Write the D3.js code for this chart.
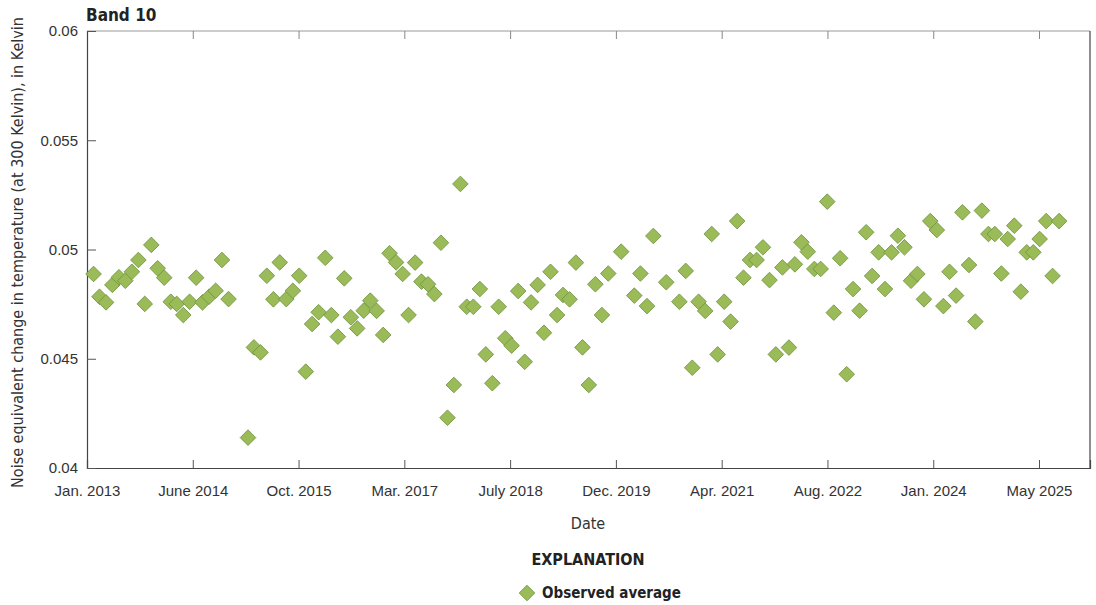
<!DOCTYPE html>
<html>
<head>
<meta charset="utf-8">
<script src="https://cdn.jsdelivr.net/npm/d3@7"></script>
<style>
  body { margin: 0; background: #fff; }
  svg { display: block; font-family: "Liberation Sans Narrow", "DejaVu Sans Condensed", sans-serif; }
  .tick-label { font-size: 15px; fill: #333; }
</style>
</head>
<body>
<div id="chart"></div>
<script>
// monthly observed averages, Band 10
var months = [
  "2013-02","2013-03","2013-04","2013-05","2013-06","2013-07","2013-08","2013-09","2013-10","2013-11","2013-12",
  "2014-01","2014-02","2014-03","2014-04","2014-05","2014-06","2014-07","2014-08","2014-09","2014-10","2014-11",
  "2015-02","2015-03","2015-04","2015-05","2015-06","2015-07","2015-08","2015-09","2015-10","2015-11","2015-12",
  "2016-01","2016-02","2016-03","2016-04","2016-05","2016-06","2016-07","2016-08","2016-09","2016-10","2016-11","2016-12",
  "2017-01","2017-02","2017-03","2017-04","2017-05","2017-06","2017-07","2017-08","2017-09","2017-10","2017-11","2017-12",
  "2018-01","2018-02","2018-03","2018-04","2018-05","2018-06","2018-07","2018-08","2018-09","2018-10","2018-11","2018-12",
  "2019-01","2019-02","2019-03","2019-04","2019-05","2019-06","2019-07","2019-08","2019-09","2019-10","2019-12",
  "2020-02","2020-03","2020-04","2020-05","2020-07","2020-09","2020-10","2020-11","2020-12",
  "2021-01","2021-02","2021-03","2021-04","2021-05","2021-06","2021-07","2021-08","2021-09","2021-10","2021-11","2021-12",
  "2022-01","2022-02","2022-03","2022-04","2022-05","2022-06","2022-07","2022-08","2022-09","2022-10","2022-11","2022-12",
  "2023-01","2023-02","2023-03","2023-04","2023-05","2023-06","2023-07","2023-08","2023-09","2023-10","2023-11","2023-12",
  "2024-01","2024-02","2024-03","2024-04","2024-05","2024-06","2024-07","2024-08","2024-09","2024-10","2024-11","2024-12",
  "2025-01","2025-02","2025-03","2025-04","2025-05","2025-06","2025-07","2025-08"
];

var neTemp = [
  0.04888,0.04784,0.04758,0.04838,0.04873,0.04857,0.04898,0.04952,0.04751,0.05021,0.04914,
  0.04871,0.04761,0.04751,0.04700,0.04761,0.04871,0.04758,0.04784,0.04811,0.04952,0.04773,
  0.04139,0.04552,0.04529,0.04880,0.04772,0.04941,0.04773,0.04811,0.04880,0.04441,0.04659,
  0.04713,0.04962,0.04700,0.04601,0.04868,0.04690,0.04639,0.04720,0.04766,0.04719,0.04609,0.04983,
  0.04941,0.04888,0.04700,0.04940,0.04853,0.04841,0.04796,0.05031,0.04230,0.04380,0.05300,0.04738,
  0.04738,0.04819,0.04520,0.04388,0.04738,0.04594,0.04560,0.04810,0.04486,0.04758,0.04838,0.04619,
  0.04898,0.04700,0.04792,0.04772,0.04940,0.04552,0.04380,0.04841,0.04700,0.04890,0.04990,
  0.04789,0.04890,0.04741,0.05062,0.04850,0.04761,0.04902,0.04459,0.04761,
  0.04719,0.05071,0.04520,0.04761,0.04670,0.05130,0.04871,0.04952,0.04952,0.05010,0.04860,0.04520,
  0.04918,0.04551,0.04932,0.05033,0.04990,0.04911,0.04911,0.05219,0.04711,0.04960,0.04429,0.04819,
  0.04720,0.05079,0.04879,0.04987,0.04819,0.04987,0.05063,0.05010,0.04857,0.04888,0.04772,0.05130,
  0.05089,0.04741,0.04898,0.04789,0.05170,0.04929,0.04670,0.05178,0.05071,0.05071,0.04890,0.05048,
  0.05109,0.04807,0.04987,0.04987,0.05048,0.05130,0.04879,0.05130
];

var xTickLabels = ["Jan. 2013","June 2014","Oct. 2015","Mar. 2017","July 2018",
  "Dec. 2019","Apr. 2021","Aug. 2022","Jan. 2024","May 2025"];
var yTicks = [0.04, 0.045, 0.05, 0.055, 0.06];

var width = 1096, height = 605;
var margin = { top: 31, right: 6, bottom: 137, left: 87 };
var w = width - margin.left - margin.right,
    h = height - margin.top - margin.bottom;

var parseMonth = d3.timeParse("%Y-%m");
var data = months.map(function (m, i) {
  return { date: parseMonth(m), value: neTemp[i] };
});

var start = new Date(2013, 0, 1);
var x = d3.scaleTime()
  .domain([start, d3.timeDay.offset(start, 4741)])
  .range([0, w]);
var y = d3.scaleLinear().domain([0.04, 0.06]).range([h, 0]);

// axis ticks fall every 500 days from the start of the record
var xTickDates = xTickLabels.map(function (d, i) {
  return d3.timeDay.offset(start, i * 500);
});

var svg = d3.select("#chart").append("svg")
  .attr("width", width)
  .attr("height", height);

var g = svg.append("g")
  .attr("transform", "translate(" + margin.left + "," + margin.top + ")");

// frame
g.append("line").attr("x1", 0).attr("x2", w).attr("y1", 0).attr("y2", 0)
  .attr("stroke", "#9a9a9a").attr("stroke-width", 1.2);
g.append("line").attr("x1", w).attr("x2", w).attr("y1", 0).attr("y2", h)
  .attr("stroke", "#444").attr("stroke-width", 1.2);

// x axis (bottom) with inward ticks
var xAxis = g.append("g")
  .attr("transform", "translate(0," + h + ")")
  .call(d3.axisBottom(x).tickValues(xTickDates).tickSize(-8).tickPadding(17)
    .tickFormat(function (d, i) { return xTickLabels[i]; }));
xAxis.select(".domain").attr("stroke", "#444").attr("stroke-width", 1.2);
xAxis.selectAll(".tick line").attr("stroke", "#555");
xAxis.selectAll(".tick text").attr("class", "tick-label").attr("font-size", null).attr("font-family", null);

// top ticks
g.append("g")
  .call(d3.axisTop(x).tickValues(xTickDates).tickSize(-8).tickFormat(""))
  .call(function (s) { s.select(".domain").remove(); })
  .selectAll(".tick line").attr("stroke", "#888");

// y axis
var yAxis = g.append("g")
  .call(d3.axisLeft(y).tickValues(yTicks).tickSize(-9).tickPadding(9)
    .tickFormat(function (d) { return +d.toFixed(3); }));
yAxis.select(".domain").attr("stroke", "#444").attr("stroke-width", 1.2);
yAxis.selectAll(".tick line").attr("stroke", "#555");
yAxis.selectAll(".tick text").attr("class", "tick-label").attr("font-size", null).attr("font-family", null);

// points
var diamond = d3.symbol().type(d3.symbolSquare).size(122);
g.append("g")
  .selectAll("path")
  .data(data)
  .enter()
  .append("path")
  .attr("d", diamond)
  .attr("transform", function (d) {
    return "translate(" + x(d.date) + "," + y(d.value) + ") rotate(45)";
  })
  .attr("fill", "#9bbb59")
  .attr("stroke", "#6e9540")
  .attr("stroke-width", 0.8);

// titles
svg.append("text")
  .attr("x", 86).attr("y", 21)
  .attr("font-size", 17).attr("font-weight", "bold").attr("fill", "#222")
  .text("Band 10");

svg.append("text")
  .attr("transform", "translate(23," + (margin.top + h / 2 + 3) + ") rotate(-90)")
  .attr("text-anchor", "middle")
  .attr("font-size", 16).attr("fill", "#333")
  .text("Noise equivalent change in temperature (at 300 Kelvin), in Kelvin");

svg.append("text")
  .attr("x", 588).attr("y", 529)
  .attr("text-anchor", "middle")
  .attr("font-size", 16).attr("fill", "#333")
  .text("Date");

svg.append("text")
  .attr("x", 588).attr("y", 565)
  .attr("text-anchor", "middle")
  .attr("font-size", 16).attr("font-weight", "bold").attr("fill", "#222")
  .text("EXPLANATION");

// legend
svg.append("path")
  .attr("d", diamond)
  .attr("transform", "translate(527,593) rotate(45)")
  .attr("fill", "#9bbb59")
  .attr("stroke", "#6e9540")
  .attr("stroke-width", 0.8);

svg.append("text")
  .attr("x", 542).attr("y", 598)
  .attr("font-size", 15).attr("font-weight", "bold").attr("fill", "#222")
  .text("Observed average");
</script>
</body>
</html>
